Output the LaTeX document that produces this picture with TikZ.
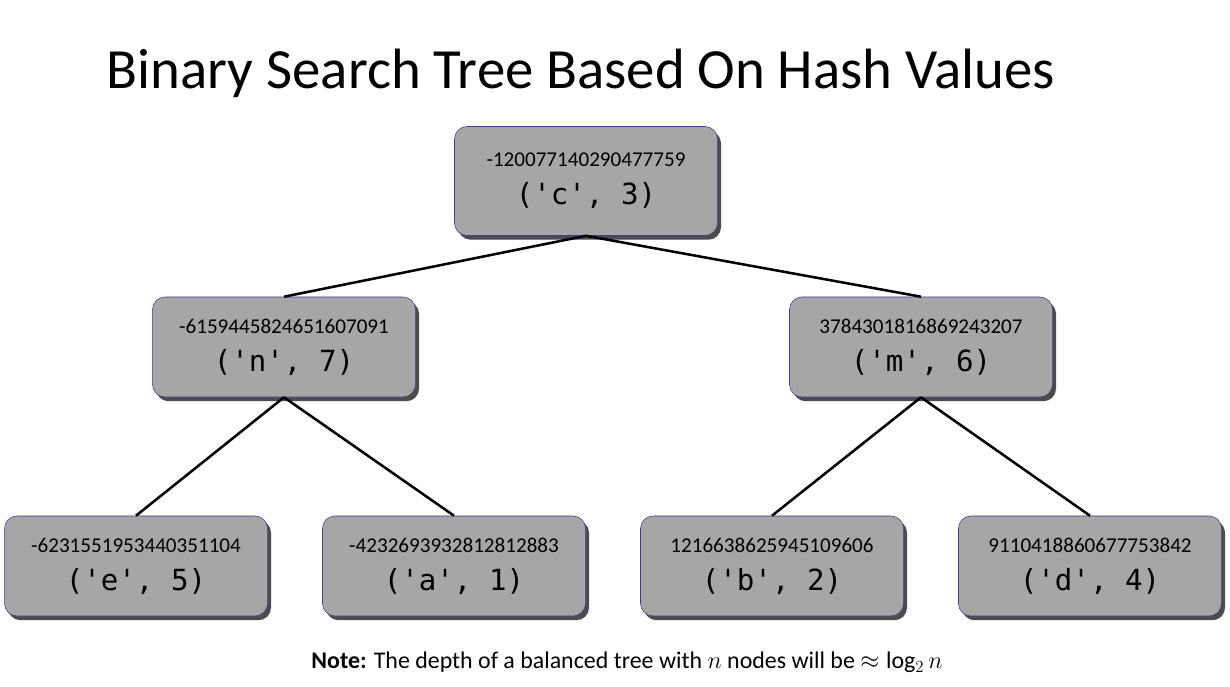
\documentclass[tikz,border=0pt]{standalone}
\usepackage{fontspec}
\usepackage{amsmath}
\setmainfont{Carlito}
\newfontfamily\tuplefont{DejaVu Sans Mono}
\usetikzlibrary{shadows}
\definecolor{boxgray}{HTML}{A6A6A6}
\definecolor{boxline}{HTML}{3F3F8F}
\newcommand\hashtxt[2]{{\fontsize{15}{27}\selectfont #1}\\{\tuplefont\fontsize{20.7}{27}\selectfont #2}}

\begin{document}
\begin{tikzpicture}[x=0.025cm,y=-0.025cm,
    hnode/.style={draw=boxline,fill=boxgray,rounded corners=9pt,
      minimum width=6.575cm,minimum height=2.5cm,align=center,
      font=\fontsize{20.7}{27}\selectfont,
      drop shadow={shadow xshift=2.5pt,shadow yshift=-3pt,opacity=.7,fill=black}},
    link/.style={line width=1.8pt}]
  \useasboundingbox (0,0) rectangle (1230,686);
  \node[anchor=base] (title) at (581,88) {\fontsize{40.4}{48}\selectfont Binary Search Tree Based On Hash Values};
  \node[hnode,minimum height=2.725cm] (vc) at (586,181) {\hashtxt{-120077140290477759}{('c', 3)}};
  \node[hnode] (vn) at (284,347) {\hashtxt{-6159445824651607091}{('n', 7)}};
  \node[hnode] (vm) at (921,347) {\hashtxt{3784301816869243207}{('m', 6)}};
  \node[hnode] (ve) at (136,566) {\hashtxt{-6231551953440351104}{('e', 5)}};
  \node[hnode] (va) at (454,566) {\hashtxt{-4232693932812812883}{('a', 1)}};
  \node[hnode] (vb) at (772,566) {\hashtxt{1216638625945109606}{('b', 2)}};
  \node[hnode] (vd) at (1090,566) {\hashtxt{9110418860677753842}{('d', 4)}};
  \draw[link] (vc.south) -- (vn.north);
  \draw[link] (vc.south) -- (vm.north);
  \draw[link] (vn.south) -- (ve.north);
  \draw[link] (vn.south) -- (va.north);
  \draw[link] (vm.south) -- (vb.north);
  \draw[link] (vm.south) -- (vd.north);
  \node[anchor=base] (note) at (627,668) {\fontsize{17}{20}\selectfont\textbf{Note:} The depth of a balanced tree with $n$ nodes will be $\approx \log_2 n$};
\end{tikzpicture}
\end{document}
